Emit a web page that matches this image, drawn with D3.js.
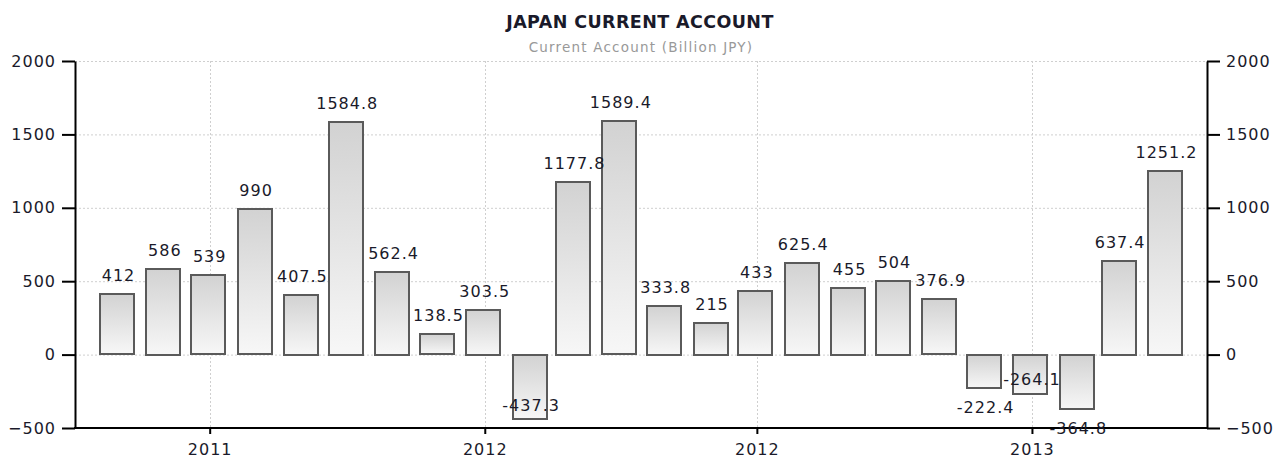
<!DOCTYPE html>
<html>
<head>
<meta charset="utf-8">
<script src="https://cdn.jsdelivr.net/npm/d3@7/dist/d3.min.js"></script>
<style>
  html, body { margin: 0; padding: 0; background: #fff; }
  svg { display: block; }
  text { font-family: "DejaVu Sans", Verdana, sans-serif; }
</style>
</head>
<body>
<svg id="chart" width="1281" height="458"></svg>
<script>
// ---- data ----
const months = ["2011-04","2011-05","2011-06","2011-07","2011-08","2011-09","2011-10","2011-11","2011-12",
                "2012-01","2012-02","2012-03","2012-04","2012-05","2012-06","2012-07","2012-08","2012-09",
                "2012-10","2012-11","2012-12","2013-01","2013-02","2013-03"];
const values = [412, 586, 539, 990, 407.5, 1584.8, 562.4, 138.5, 303.5,
                -437.3, 1177.8, 1589.4, 333.8, 215, 433, 625.4, 455, 504,
                376.9, -222.4, -264.1, -364.8, 637.4, 1251.2];
const valueLabels = ["412","586","539","990","407.5","1584.8","562.4","138.5","303.5",
                     "-437.3","1177.8","1589.4","333.8","215","433","625.4","455","504",
                     "376.9","-222.4","-264.1","-364.8","637.4","1251.2"];
const yTicks = [-500, 0, 500, 1000, 1500, 2000];
const chartTitle = "JAPAN CURRENT ACCOUNT";
const chartSubtitle = "Current Account (Billion JPY)";

(function () {
// ---- layout ----
const svg = d3.select("#chart");
const W = 1281, H = 458;
const pl = 75, pr = 1207, pt = 61, pb = 428;
const barW = 34;

const parse = d3.timeParse("%Y-%m");
// bars placed at end of month
const dates = months.map(m => d3.timeDay.offset(d3.timeMonth.offset(parse(m), 1), -1));

const x = d3.scaleTime()
  .domain([dates[0], dates[dates.length - 1]])
  .range([117, 1165]);
const y = d3.scaleLinear().domain([-500, 2000]).range([pb, pt]);

const xTicks = d3.timeMonth.every(6).range(d3.timeMonth.ceil(x.invert(pl)), x.invert(pr));

// gradient
const defs = svg.append("defs");
const grad = defs.append("linearGradient").attr("id", "barGrad")
  .attr("x1", 0).attr("y1", 0).attr("x2", 0).attr("y2", 1);
grad.append("stop").attr("offset", "0%").attr("stop-color", "#d2d2d2");
grad.append("stop").attr("offset", "100%").attr("stop-color", "#f7f7f7");

// title
svg.append("text").attr("x", 640).attr("y", 28).attr("text-anchor", "middle")
  .style("font-size", "17.5px").style("font-weight", "bold").attr("fill", "#1a1a2a")
  .attr("letter-spacing", "0.4px")
  .text(chartTitle);
svg.append("text").attr("x", 641).attr("y", 52).attr("text-anchor", "middle")
  .style("font-size", "13.5px").attr("fill", "#999").attr("letter-spacing", "1.2px")
  .text(chartSubtitle);

// grid
const grid = svg.append("g");
grid.selectAll("line.h").data(yTicks.filter(d => d > -500)).join("line")
  .attr("x1", pl).attr("x2", pr)
  .attr("y1", d => y(d) + 0.5).attr("y2", d => y(d) + 0.5)
  .attr("stroke", "#cfcfcf").attr("stroke-dasharray", "2,2");
grid.selectAll("line.v").data(xTicks).join("line")
  .attr("x1", d => Math.round(x(d)) + 0.5).attr("x2", d => Math.round(x(d)) + 0.5)
  .attr("y1", pt).attr("y2", pb)
  .attr("stroke", "#cfcfcf").attr("stroke-dasharray", "2,2");

// bars
svg.append("g").selectAll("rect").data(values).join("rect")
  .attr("x", (d, i) => Math.round(x(dates[i]) - barW / 2))
  .attr("y", d => Math.round(y(Math.max(0, d))))
  .attr("width", barW)
  .attr("height", d => Math.round(Math.abs(y(d) - y(0))))
  .attr("fill", "url(#barGrad)")
  .attr("stroke", "#5a5a5a").attr("stroke-width", 2);

// axes
const axisFont = g => g.selectAll("text")
  .style("font-family", '"DejaVu Sans", Verdana, sans-serif')
  .style("font-size", "16px").attr("fill", "#1a1a2a").attr("letter-spacing", "1px");

const yFmt = d3.format("d");
const yLeft = svg.append("g").attr("transform", `translate(${pl},0)`)
  .call(d3.axisLeft(y).tickValues(yTicks).tickFormat(yFmt).tickSize(13).tickPadding(6).tickSizeOuter(0));
const yRight = svg.append("g").attr("transform", `translate(${pr},0)`)
  .call(d3.axisRight(y).tickValues(yTicks).tickFormat(yFmt).tickSize(13).tickPadding(6).tickSizeOuter(0));
const xAxis = svg.append("g").attr("transform", `translate(0,${pb})`)
  .call(d3.axisBottom(x).tickValues(xTicks).tickFormat(d3.timeFormat("%Y"))
        .tickSize(6).tickPadding(6).tickSizeOuter(0));
[yLeft, yRight, xAxis].forEach(g => {
  g.select(".domain").attr("stroke", "#000").attr("stroke-width", 2);
  g.selectAll(".tick line").attr("stroke", "#000").attr("stroke-width", 2);
  axisFont(g);
});
xAxis.select(".domain").attr("d", `M${pl - 1},0H${pr + 1}`);
xAxis.selectAll(".tick text").attr("dy", "0.95em");

// value labels with simple collision avoidance
const labelG = svg.append("g");
const placed = [];
const charW = 10.5;
values.forEach((v, i) => {
  const cx = x(dates[i]);
  const txt = valueLabels[i];
  const w = txt.length * charW;
  let baseY;
  if (v >= 0) {
    baseY = y(v) - 13;
  } else {
    const barBottom = y(v);
    const candidates = [barBottom + 26, barBottom - 8];
    baseY = candidates[candidates.length - 1];
    for (const c of candidates) {
      if (c > H - 16) continue;
      const box = {x0: cx - w / 2, x1: cx + w / 2, y0: c - 12, y1: c};
      const hit = placed.some(p => box.x0 < p.x1 && box.x1 > p.x0 && box.y0 < p.y1 && box.y1 > p.y0);
      if (!hit) { baseY = c; break; }
    }
  }
  placed.push({x0: cx - w / 2, x1: cx + w / 2, y0: baseY - 12, y1: baseY});
  labelG.append("text").attr("x", cx + 1.5).attr("y", baseY)
    .attr("text-anchor", "middle")
    .style("font-size", "16px").attr("letter-spacing", "1px")
    .attr("fill", "#1a1a2a").text(txt);
});
})();
</script>
</body>
</html>
